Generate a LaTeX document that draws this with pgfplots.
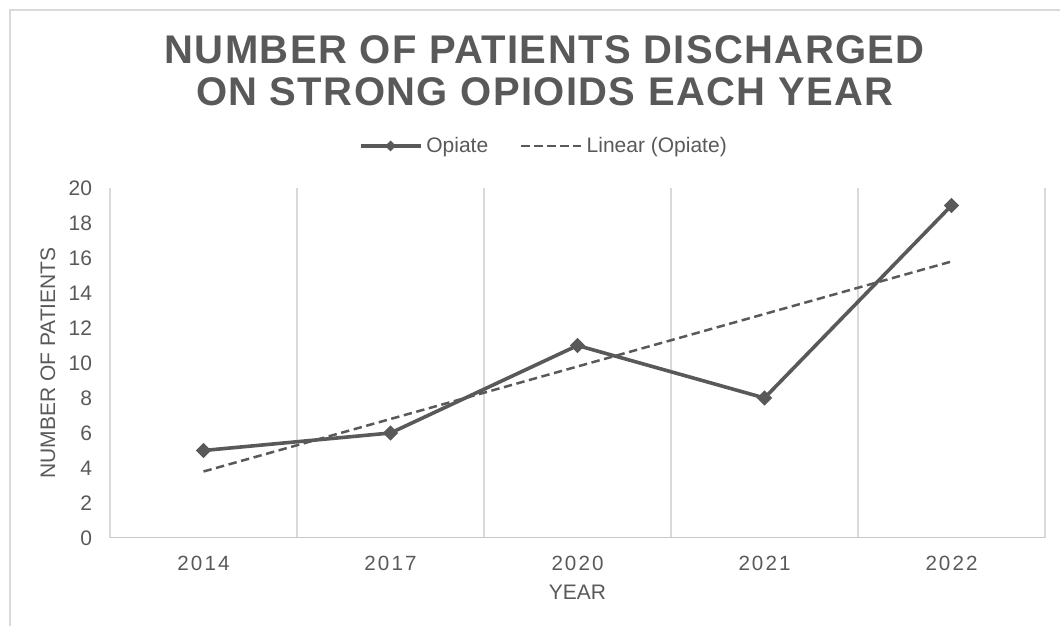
\documentclass[border=0pt]{standalone}
\usepackage{pgfplots}
\pgfplotsset{compat=1.18}
\usepackage{fontspec}
\setmainfont{Liberation Sans}
\newfontfamily\spacedfont[LetterSpace=10]{Liberation Sans}
\newfontfamily\titlefont[LetterSpace=3.5]{Liberation Sans}
\definecolor{txt}{HTML}{595959}
\definecolor{ln}{HTML}{595959}
\definecolor{grd}{HTML}{D9D9D9}
\definecolor{axl}{HTML}{C8C8C8}
\pgfplotsset{
  marklegend/.style={legend image code/.code={\draw[##1, mark=none] (0pt,0pt) -- (30pt,0pt); \draw[##1, mark size=2.3pt] plot coordinates {(15pt,0pt)};}},
  linelegend/.style={legend image code/.code={\draw[##1] (0pt,0pt) -- (30pt,0pt);}},
}
\begin{document}
\begin{tikzpicture}
\useasboundingbox (0,0) rectangle (530pt,313pt);
\draw[grd, line width=0.8pt] (5pt,0) -- (5pt,308pt) -- (530pt,308pt);
\begin{axis}[
  at={(55pt,44pt)}, anchor=south west,
  scale only axis, width=467.5pt, height=175pt,
  xmin=-0.5, xmax=4.5, ymin=0, ymax=20,
  xtick={0,1,2,3,4},
  xticklabels={2014,2017,2020,2021,2022},
  ytick={0,2,...,20},
  minor xtick={-0.5,0.5,1.5,2.5,3.5,4.5},
  xminorgrids, minor grid style={grd, line width=0.8pt},
  major tick length=0pt, minor tick length=0pt,
  axis line style={draw=none},
  /pgf/number format/assume math mode=true,
  xticklabel style={font=\spacedfont\fontsize{10.3}{12}\selectfont, text=txt, yshift=-5.5pt},
  yticklabel style={font=\fontsize{10.5}{12}\selectfont, text=txt, xshift=-5.5pt},
  xlabel={YEAR}, ylabel={NUMBER OF PATIENTS},
  xlabel style={font=\fontsize{10.5}{12}\selectfont, text=txt, at={(0.5,-0.154)}, anchor=center},
  ylabel style={font=\fontsize{10.5}{12}\selectfont, text=txt, at={(-0.0663,0.5)}, anchor=center},
  title={NUMBER OF PATIENTS DISCHARGED\\ON STRONG OPIOIDS EACH YEAR},
  title style={at={(0.465,1.30)}, anchor=center, align=center,
    font=\titlefont\bfseries\fontsize{20}{21}\selectfont, text=txt},
  legend columns=2,
  legend style={draw=none, fill=none, at={(0.465,1.12)}, anchor=center,
    font=\fontsize{10.5}{12}\selectfont, text=txt,
    /tikz/every even column/.append style={column sep=14pt}},
  legend cell align=left,
]
\addplot[ln, line width=1.8pt, mark=diamond*, mark size=3.4pt,
  mark options={solid, fill=ln, line width=0.6pt, xscale=1.33}, marklegend]
  coordinates {(0,5) (1,6) (2,11) (3,8) (4,19)};
\addlegendentry{Opiate}
\addplot[ln, line width=1.25pt, dash pattern=on 4.2pt off 2.3pt, no marks, linelegend]
  coordinates {(0,3.8) (4,15.8)};
\addlegendentry{Linear (Opiate)}
\draw[axl, line width=1pt] (axis cs:-0.5,0) -- (axis cs:4.5,0);
\end{axis}
\end{tikzpicture}
\end{document}
